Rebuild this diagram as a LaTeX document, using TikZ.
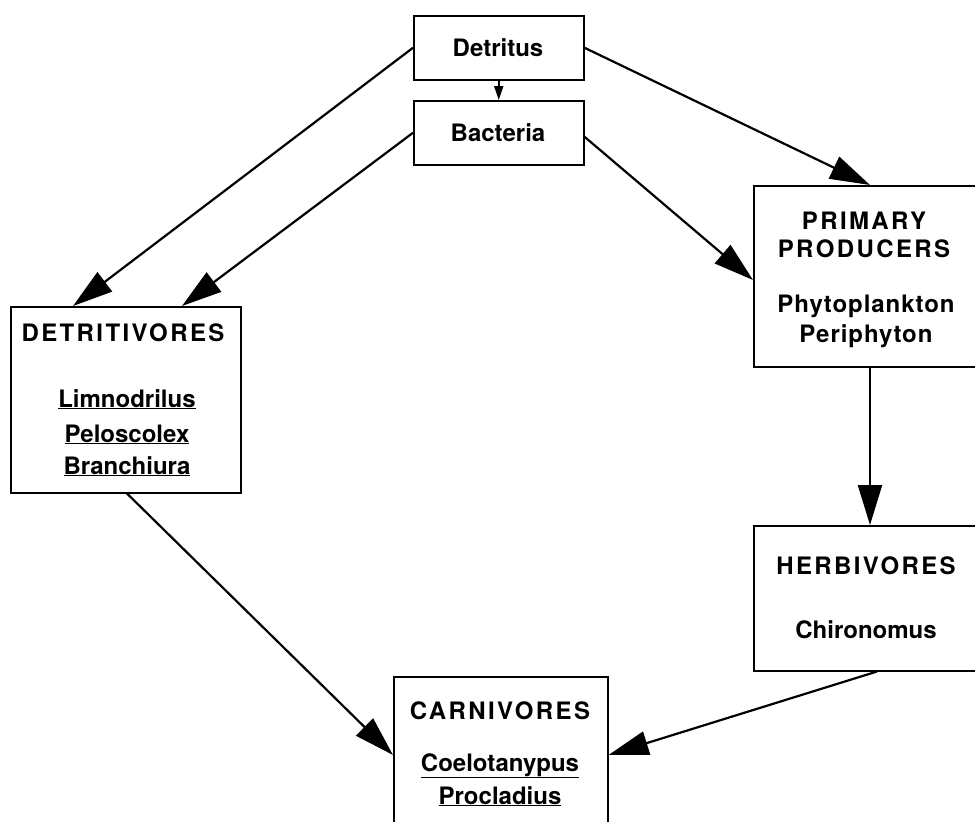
\documentclass[tikz,border=0pt]{standalone}
\usepackage{fontspec}
\setmainfont{TeX Gyre Heros}
\usetikzlibrary{arrows.meta,calc}
\newcommand{\caps}[1]{{\addfontfeature{LetterSpace=10}#1}}
\begin{document}
\begin{tikzpicture}[x=1pt,y=-1pt,
  box/.style={draw,line width=1.5pt,rectangle,anchor=north west,inner sep=0pt},
  lbl/.style={font=\fontsize{24}{28}\selectfont\bfseries,inner sep=0pt,anchor=base},
  flow/.style={line width=2.2pt,-{Triangle[length=40pt,width=24pt]}},
  small/.style={line width=2pt,-{Triangle[length=14pt,width=9pt]}}]
\clip (0,0) rectangle (975,822);
\fill[white] (0,0) rectangle (975,822);
% boxes
\node[box,minimum width=170pt,minimum height=64pt] (det) at (413,15) {};
\node[box,minimum width=170pt,minimum height=64pt] (bac) at (413,100) {};
\node[box,minimum width=230pt,minimum height=186pt] (dv) at (10,306) {};
\node[box,minimum width=230pt,minimum height=181pt] (pp) at (753,185) {};
\node[box,minimum width=230pt,minimum height=145pt] (hb) at (753,525) {};
\node[box,minimum width=214pt,minimum height=160pt] (cv) at (393,676) {};
% texts
\node[lbl] (tdet) at (498,56) {Detritus};
\node[lbl] (tbac) at (498,141) {Bacteria};
\node[lbl] (tdv) at (123,341) {\caps{DETRITIVORES}};
\node[lbl] (tdv1) at (127,407) {\underline{Limnodrilus}};
\node[lbl] (tdv2) at (127,442) {\underline{Peloscolex}};
\node[lbl] (tdv3) at (127,474) {\underline{Branchiura}};
\node[lbl] (tpp1) at (864,229) {\caps{PRIMARY}};
\node[lbl] (tpp2) at (864,257) {\caps{PRODUCERS}};
\node[lbl] (tpp3) at (866,312) {{\addfontfeature{LetterSpace=4}Phytoplankton}};
\node[lbl] (tpp4) at (866,342) {{\addfontfeature{LetterSpace=4}Periphyton}};
\node[lbl] (thb1) at (866,574) {\caps{HERBIVORES}};
\node[lbl] (thb2) at (866,638) {Chironomus};
\node[lbl] (tcv1) at (500,719) {\caps{CARNIVORES}};
\node[lbl] (tcv2) at (500,771) {\underline{Coelotanypus}};
\node[lbl] (tcv3) at (500,804) {\underline{Procladius}};
% connectors
\draw[flow] (det.west) -- ($(dv.north west)+(63,0)$);
\draw[flow] (bac.west) -- ($(dv.north west)+(172,0)$);
\draw[flow] (det.east) -- ($(pp.north west)+(117,0)$);
\draw[flow] ($(bac.east)+(0,4)$) -- ($(pp.north west)+(0,95)$);
\draw[small] (det.south) -- (bac.north);
\draw[flow] ($(pp.south west)+(117,0)$) -- ($(hb.north west)+(117,0)$);
\draw[flow] ($(dv.south west)+(117,0)$) -- ($(cv.north west)+(0,79)$);
\draw[flow] ($(hb.south west)+(124,0)$) -- ($(cv.north east)+(0,79)$);
\end{tikzpicture}
\end{document}
